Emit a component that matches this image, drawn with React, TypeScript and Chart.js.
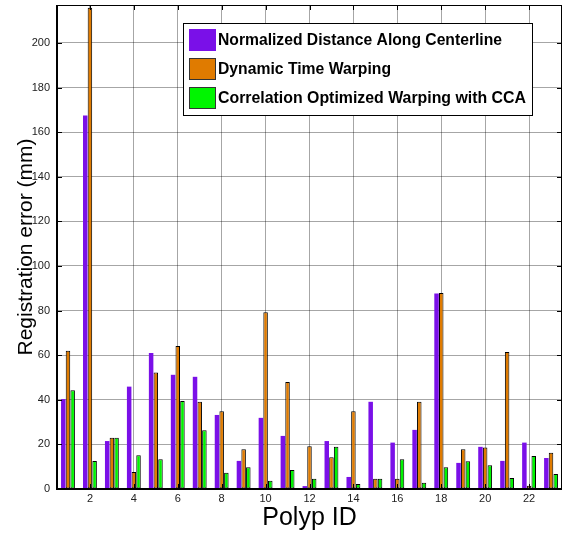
import React, { useEffect, useRef } from "react";
import { Chart, registerables } from "chart.js";

Chart.register(...registerables);

const polypIds = ["1","2","3","4","5","6","7","8","9","10","11","12","13","14","15","16","17","18","19","20","21","22","23"];
const seriesNames = [
  "Normalized Distance Along Centerline",
  "Dynamic Time Warping",
  "Correlation Optimized Warping with CCA",
];
const normalizedDistance = [40.3, 167.5, 21.5, 45.9, 61.0, 51.2, 50.3, 33.2, 12.6, 31.9, 23.8, 1.3, 21.5, 5.4, 39.1, 20.8, 26.5, 87.7, 11.7, 18.9, 12.6, 20.8, 13.9];
const dynamicTimeWarping = [62.0, 215.8, 23.0, 7.6, 52.2, 64.1, 39.1, 34.9, 17.8, 79.3, 48.0, 19.2, 14.2, 34.9, 4.6, 4.6, 39.1, 87.9, 17.8, 18.6, 61.4, 1.5, 16.3];
const cowCCA = [44.3, 12.6, 23.0, 15.1, 13.3, 39.4, 26.3, 7.3, 9.7, 3.7, 8.5, 4.6, 18.9, 2.2, 4.6, 13.3, 2.8, 9.7, 12.4, 10.6, 4.9, 14.8, 6.7];
const yTickStep = 20;
const yMax = 217;

const COLORS = ["#7A10E8", "#E07B00", "#00F500"];
const BORDERS = ["#7A10E8", "#000000", "#000000"];

const framePlugin = {
  id: "frame",
  afterDraw(chart: any) {
    const { ctx, chartArea } = chart;
    const { left, right, top, bottom } = chartArea;
    ctx.save();
    ctx.strokeStyle = "#000";
    ctx.lineWidth = 1;
    const xs = chart.scales.x;
    xs.ticks.forEach((t: any, i: number) => {
      const px = Math.round(xs.getPixelForTick(i)) + 0.5;
      ctx.beginPath();
      ctx.moveTo(px, top);
      ctx.lineTo(px, top + 5);
      ctx.moveTo(px, bottom);
      ctx.lineTo(px, bottom - 5);
      ctx.stroke();
    });
    const ys = chart.scales.y;
    ys.ticks.forEach((t: any) => {
      const py = Math.round(ys.getPixelForValue(t.value)) + 0.5;
      ctx.beginPath();
      ctx.moveTo(right, py);
      ctx.lineTo(right - 5, py);
      ctx.moveTo(left, py);
      ctx.lineTo(left + 5, py);
      ctx.stroke();
    });
    ctx.strokeStyle = "#000";
    ctx.lineWidth = 1;
    ctx.strokeRect(left + 0.5, top + 0.5, right - left - 1, bottom - top - 1);
    ctx.lineWidth = 2;
    ctx.beginPath();
    ctx.moveTo(left, top);
    ctx.lineTo(left, bottom);
    ctx.lineTo(right, bottom);
    ctx.stroke();

    // legend
    const bx = 183.5, by = 23.5, bw = 349, bh = 92;
    ctx.fillStyle = "#fff";
    ctx.fillRect(bx, by, bw, bh);
    ctx.strokeStyle = "#000";
    ctx.lineWidth = 1;
    ctx.strokeRect(bx, by, bw, bh);
    const rowY = [29.5, 58.5, 87.5];
    const widths = [284, 173, 308];
    chart.data.datasets.forEach((ds: any, i: number) => {
      ctx.fillStyle = ds.backgroundColor;
      ctx.fillRect(189.5, rowY[i], 26, 21);
      ctx.strokeStyle = i === 0 ? ds.backgroundColor : "#333";
      ctx.lineWidth = 1;
      ctx.strokeRect(189.5, rowY[i], 26, 21);
      ctx.fillStyle = "#000";
      ctx.font = "bold 16px 'Liberation Sans', Arial, sans-serif";
      ctx.textBaseline = "middle";
      ctx.textAlign = "left";
      ctx.fillText(ds.label, 218, rowY[i] + 11, widths[i]);
    });
    ctx.restore();
  },
};

export default function App() {
  const ref = useRef<HTMLCanvasElement>(null);
  useEffect(() => {
    document.body.style.margin = "0";
    const chart = new Chart(ref.current!, {
      type: "bar",
      data: {
        labels: polypIds,
        datasets: [normalizedDistance, dynamicTimeWarping, cowCCA].map((d, i) => ({
          label: seriesNames[i],
          data: d,
          backgroundColor: COLORS[i],
          borderColor: BORDERS[i],
          borderWidth: i === 0 ? 0 : 1,
          borderSkipped: false,
          categoryPercentage: 0.64,
          barPercentage: 0.96,
        })),
      },
      options: {
        animation: false,
        responsive: false,
        layout: { padding: { top: 5, right: 4, left: 0, bottom: 0 } },
        plugins: { legend: { display: false }, tooltip: { enabled: false } },
        scales: {
          x: {
            grid: { offset: false, color: "rgba(0,0,0,0.35)", drawTicks: false },
            border: { display: false },
            ticks: {
              autoSkip: false,
              maxRotation: 0,
              padding: 3,
              color: "#222",
              font: { size: 11, family: "'Liberation Sans', Arial, sans-serif" },
              callback: (v: any, i: number) => ((i + 1) % 2 === 0 ? polypIds[i] : null),
            },
            title: {
              display: true,
              text: "Polyp ID",
              color: "#000",
              font: { size: 25, family: "'Liberation Sans', Arial, sans-serif" },
              padding: { top: 0, bottom: 0 },
            },
            afterFit: (s: any) => { s.height = 44; s.paddingLeft = 0; s.paddingRight = 0; },
          },
          y: {
            min: 0,
            max: yMax,
            grid: { color: "rgba(0,0,0,0.35)", drawTicks: false },
            border: { display: false },
            ticks: {
              stepSize: yTickStep,
              padding: 7,
              color: "#222",
              font: { size: 11, family: "'Liberation Sans', Arial, sans-serif" },
            },
            afterBuildTicks: (s: any) => {
              s.ticks = s.ticks.filter((t: any) => t.value % yTickStep === 0);
            },
            title: {
              display: true,
              text: "Registration error (mm)",
              color: "#000",
              font: { size: 21, family: "'Liberation Sans', Arial, sans-serif" },
              padding: { top: 14, bottom: 0 },
            },
            afterFit: (s: any) => { s.width = 57; s.paddingTop = 0; s.paddingBottom = 0; },
          },
        },
      },
      plugins: [framePlugin],
    });
    return () => chart.destroy();
  }, []);
  return (
    <div style={{ width: 566, height: 533 }}>
      <canvas ref={ref} width={566} height={533} style={{ display: "block" }} />
    </div>
  );
}
